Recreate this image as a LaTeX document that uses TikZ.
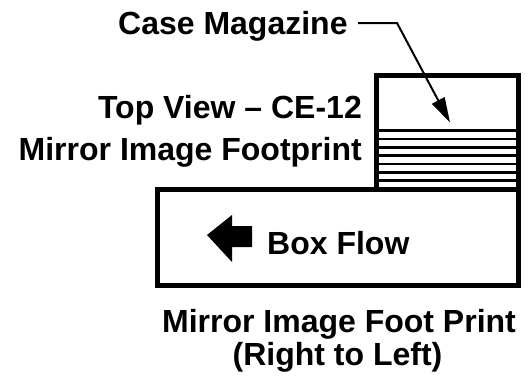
\documentclass[tikz,border=0pt]{standalone}
\usepackage{fontspec}
\setmainfont{Liberation Sans}
\usetikzlibrary{arrows.meta}
\begin{document}
\begin{tikzpicture}[x=1pt,y=1pt,
  lbl/.style={inner sep=0pt,font=\fontsize{32}{38}\selectfont\bfseries},
  frame/.style={line width=5pt,line join=miter},
  hatch/.style={line width=2.5pt},
  leader/.style={line width=2pt,-{Triangle[length=25pt,width=14pt]}}]
\useasboundingbox (0,0) rectangle (530,-376);
% boxes
\draw[frame] (376,-189) |- (518.5,-75) -- (518.5,-189);
\draw[frame] (157.5,-189) rectangle (518.5,-285.5);
\foreach \k in {1,...,7}{
  \draw[hatch] (378.5,{-189+8.33*\k}) -- (516,{-189+8.33*\k});
}
% block arrow
\fill (207,-235) -- (232,-215) -- (232,-226) -- (252,-226) -- (252,-247) -- (232,-247) -- (232,-262) -- cycle;
% labels
\node[lbl,anchor=base west] (cm) at (118,-34) {Case Magazine};
\node[lbl,anchor=base east] (tv) at (362,-118) {Top View – CE-12};
\node[lbl,anchor=base east] (mf) at (362,-160) {Mirror Image Footprint};
\node[lbl,anchor=base west] (bf) at (267,-254) {Box Flow};
\node[lbl,anchor=base] (mp) at (339,-332) {Mirror Image Foot Print};
\node[lbl,anchor=base] (rl) at (337.5,-365) {(Right to Left)};
\coordinate (tip) at (450,-122.5);
\draw[leader] (358,-23) -- (397,-23) -- (tip);
\end{tikzpicture}
\end{document}
